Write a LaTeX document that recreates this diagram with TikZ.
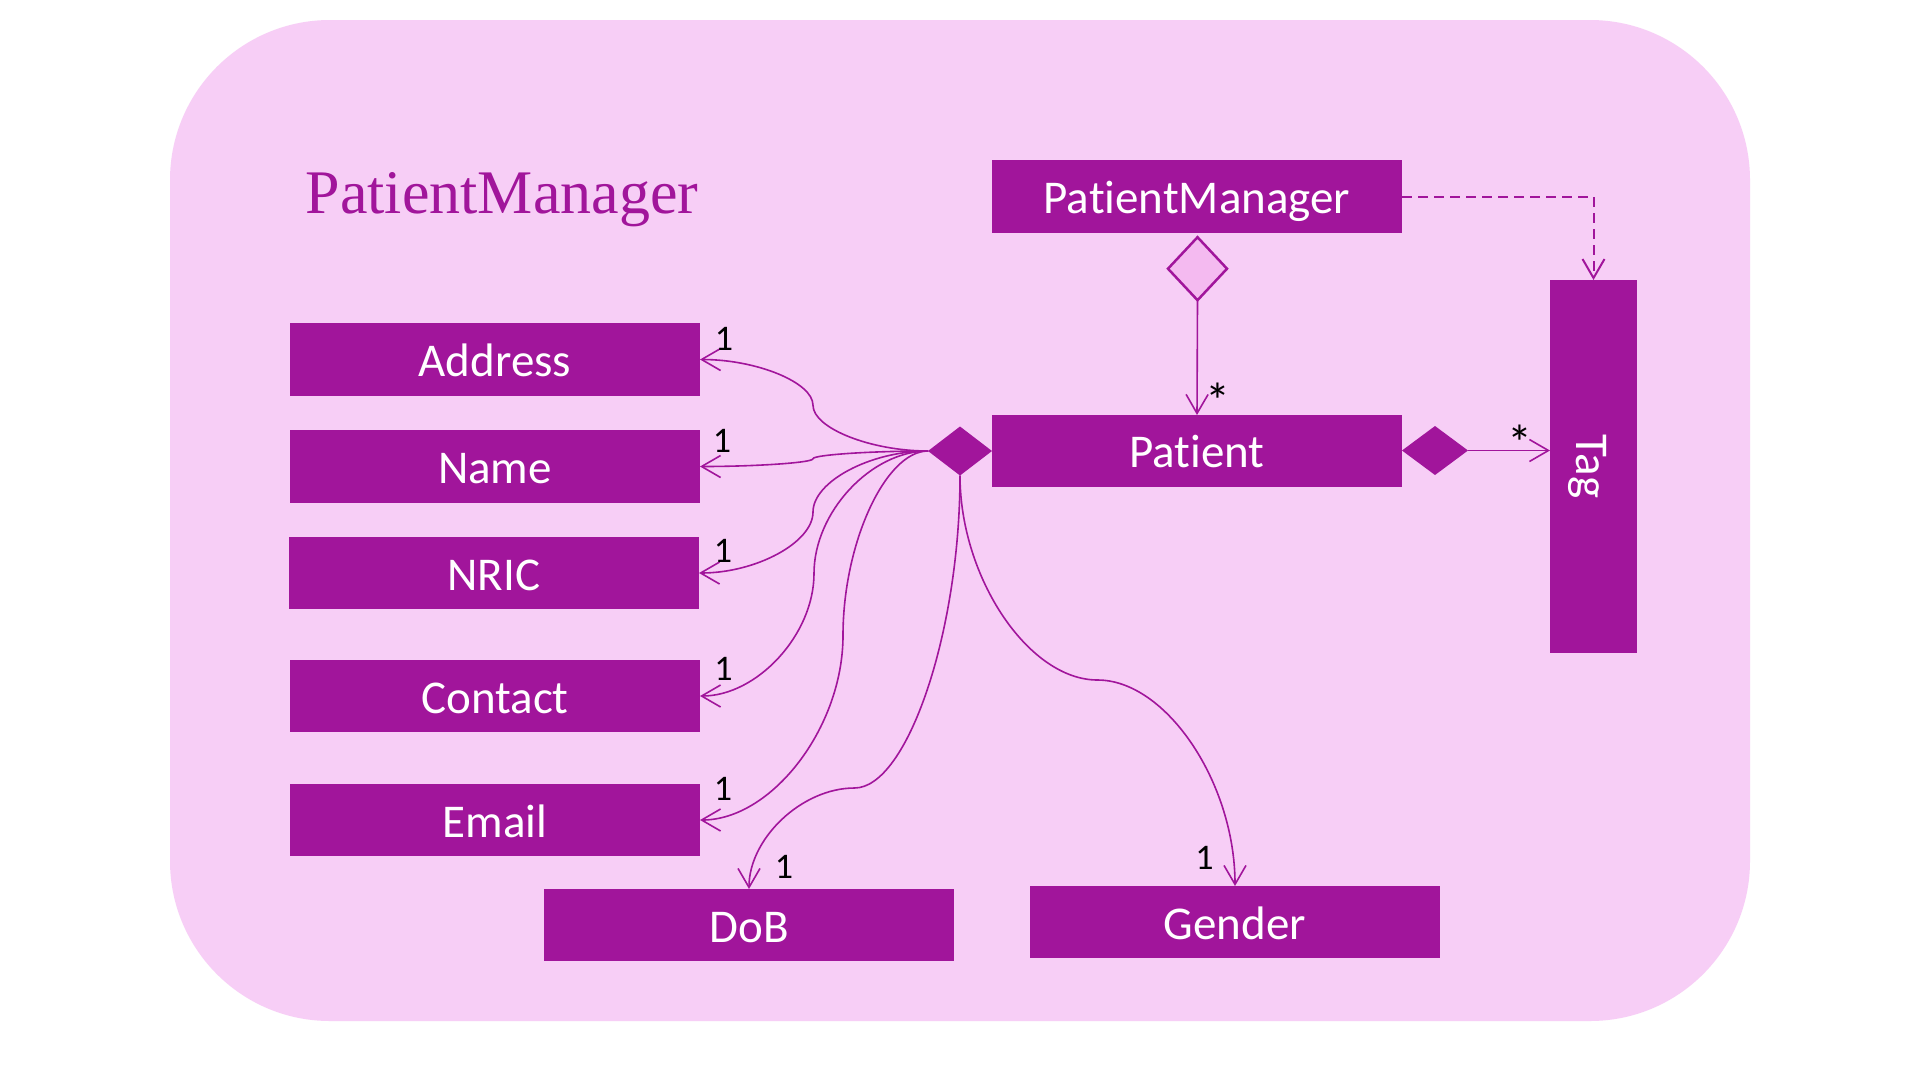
\documentclass[tikz,border=0pt]{standalone}
\usepackage{fontspec}
\setmainfont{Carlito}[Ligatures=NoCommon]
\newfontfamily\titlefont{Liberation Serif}
\usetikzlibrary{arrows.meta,shapes.geometric,calc}
\definecolor{bgpink}{HTML}{F7CEF6}
\definecolor{pm}{HTML}{A1159B}
\definecolor{dfill}{HTML}{F4BAF0}
% horizontal curved connector: start, mid x (px), end
\newcommand\hcurve[3]{%
  \draw[conn] let \p1=(#1), \p2=(#3) in (\p1)
    .. controls ({(\x1+#2pt)/2},\y1) and ({#2pt},{\y1+(\y2-\y1)/4}) .. ({#2pt},{(\y1+\y2)/2})
    .. controls ({#2pt},{\y1+3*(\y2-\y1)/4}) and ({(#2pt+\x2)/2},\y2) .. (\p2);}
% vertical curved connector: start, mid y (px), end
\newcommand\vcurve[3]{%
  \draw[conn] let \p1=(#1), \p2=(#3) in (\p1)
    .. controls (\x1,{(\y1-#2pt)/2}) and ({\x1+(\x2-\x1)/4},{-#2pt}) .. ({(\x1+\x2)/2},{-#2pt})
    .. controls ({\x1+3*(\x2-\x1)/4},{-#2pt}) and (\x2,{(\y2-#2pt)/2}) .. (\p2);}
\begin{document}
\begin{tikzpicture}[x=1pt,y=-1pt,
  cls/.style={fill=pm, text=white, inner sep=0pt, outer sep=0pt,
    font=\fontsize{47}{47}\selectfont, text height=34pt, text depth=0pt},
  mult/.style={anchor=base, inner sep=0pt, font=\fontsize{36}{36}\selectfont, text=black},
  star/.style={anchor=north, inner sep=0pt, font=\fontsize{50}{50}\selectfont, text=black},
  conn/.style={draw=pm, line width=1.6pt, -{Straight Barb[length=19pt,width=22pt]}},
  dia/.style={diamond, inner sep=0pt, outer sep=0pt},
]
\useasboundingbox (0,0) rectangle (1920,1080);
\fill[white] (0,0) rectangle (1920,1080);
\fill[bgpink, rounded corners=160pt] (170,20) rectangle (1750,1021);

\node[anchor=base, inner sep=0pt, text=pm, font=\titlefont\fontsize{62}{62}\selectfont] (title) at (502,213) {PatientManager};

% class boxes
\node[cls, minimum width=410pt, minimum height=73pt] (pmgr) at (1197,196.5) {PatientManager};
\node[cls, minimum width=410pt, minimum height=71.5pt] (patient) at (1197,450.75) {Patient};
\node[cls, minimum width=87pt, minimum height=373pt] (tag) at (1593.5,466.5) {};
\node[cls, fill=none, rotate=-90] (tagtext) at (tag.center) {Tag};
\node[cls, minimum width=410pt, minimum height=73pt] (address) at (495,359.5) {Address};
\node[cls, minimum width=410pt, minimum height=73pt] (name) at (495,466.5) {Name};
\node[cls, minimum width=410pt, minimum height=72pt] (nric) at (494,573) {NRIC};
\node[cls, minimum width=410pt, minimum height=72pt] (contact) at (495,696) {Contact};
\node[cls, minimum width=410pt, minimum height=72pt] (email) at (495,820) {Email};
\node[cls, minimum width=410pt, minimum height=72pt] (dob) at (749,925) {DoB};
\node[cls, minimum width=410pt, minimum height=72pt] (gender) at (1235,922) {Gender};

% diamonds
\node[dia, fill=pm, minimum width=64pt, minimum height=49pt] (ld) at (960,451) {};
\node[dia, fill=pm, minimum width=66pt, minimum height=49pt] (rd) at (1435,450.5) {};
\node[dia, fill=dfill, draw=pm, line width=2.5pt, minimum width=59pt, minimum height=63pt] (hd) at (1197.5,268.7) {};

% connectors
\draw[conn] (hd.south) -- (patient.north);
\draw[conn] (rd.east) -- (rd.east -| tag.west);
\draw[conn, line width=2pt, dash pattern=on 10pt off 6pt] (pmgr.east) -| (tag.north);

\hcurve{ld.west}{813}{address.east}
\hcurve{ld.west}{813}{name.east}
\hcurve{ld.west}{813}{nric.east}
\hcurve{ld.west}{814}{contact.east}
\hcurve{ld.west}{843}{email.east}
\vcurve{ld.south}{788}{dob.north}
\vcurve{ld.south}{680}{gender.north}

% multiplicities
\node[mult] (m1) at (724,350) {1};
\node[mult] (m2) at (722,452) {1};
\node[mult] (m3) at (723,562) {1};
\node[mult] (m4) at (723.5,680) {1};
\node[mult] (m5) at (723,800) {1};
\node[mult] (m6) at (784,878) {1};
\node[mult] (m7) at (1204.5,869) {1};
\node[star] (s1) at (1218,383) {*};
\node[star] (s2) at (1520,425) {*};
\end{tikzpicture}
\end{document}
